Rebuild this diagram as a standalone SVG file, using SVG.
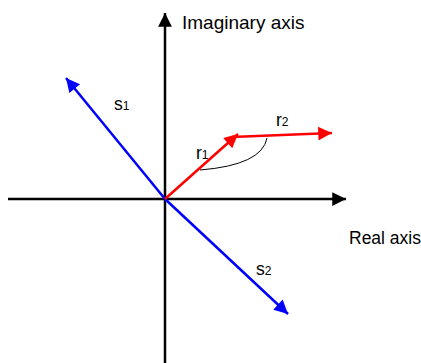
<svg xmlns="http://www.w3.org/2000/svg" width="421" height="363" viewBox="0 0 421 363">
<style>
text{font-family:"Liberation Sans",Arial,sans-serif;font-size:17.5px;fill:#000}
.big{font-size:19px}
.sub{font-size:12px}
.ax{stroke:#000;stroke-width:2.5;fill:none}
.b{stroke:#00f;stroke-width:2.5;fill:none}
.r{stroke:#f00;stroke-width:2.5;fill:none}
</style>
<defs>
<marker id="mk" viewBox="0 0 10 10" refX="10" refY="5" markerWidth="7" markerHeight="5.5" markerUnits="strokeWidth" orient="auto"><path d="M0,0 L10,5 L0,10 z" fill="#000"/></marker>
<marker id="mb" viewBox="0 0 10 10" refX="10" refY="5" markerWidth="7" markerHeight="5.5" markerUnits="strokeWidth" orient="auto"><path d="M0,0 L10,5 L0,10 z" fill="#00f"/></marker>
<marker id="mr" viewBox="0 0 10 10" refX="10" refY="5" markerWidth="7" markerHeight="5.5" markerUnits="strokeWidth" orient="auto"><path d="M0,0 L10,5 L0,10 z" fill="#f00"/></marker>
</defs>
<g id="connectors">
<line class="ax" x1="165" y1="363" x2="165" y2="13" marker-end="url(#mk)"/>
<line class="ax" x1="8" y1="199" x2="346" y2="199" marker-end="url(#mk)"/>
<line class="b" x1="165" y1="199" x2="66" y2="78" marker-end="url(#mb)"/>
<line class="b" x1="165" y1="199" x2="288" y2="314" marker-end="url(#mb)"/>
<line class="r" x1="165" y1="199" x2="238" y2="134" marker-end="url(#mr)"/>
<line class="r" x1="232" y1="137" x2="332" y2="133" marker-end="url(#mr)"/>
<path d="M200,170 Q262,165 267,138" stroke="#000" stroke-width="1" fill="none"/>
</g>
<g id="labels">
<text class="big" x="182" y="29">Imaginary axis</text>
<text x="349" y="244">Real axis</text>
<text x="114" y="110">s<tspan class="sub">1</tspan></text>
<text x="196" y="159">r<tspan class="sub">1</tspan></text>
<text x="276" y="126">r<tspan class="sub">2</tspan></text>
<text x="256" y="275">s<tspan class="sub">2</tspan></text>
</g>
</svg>
